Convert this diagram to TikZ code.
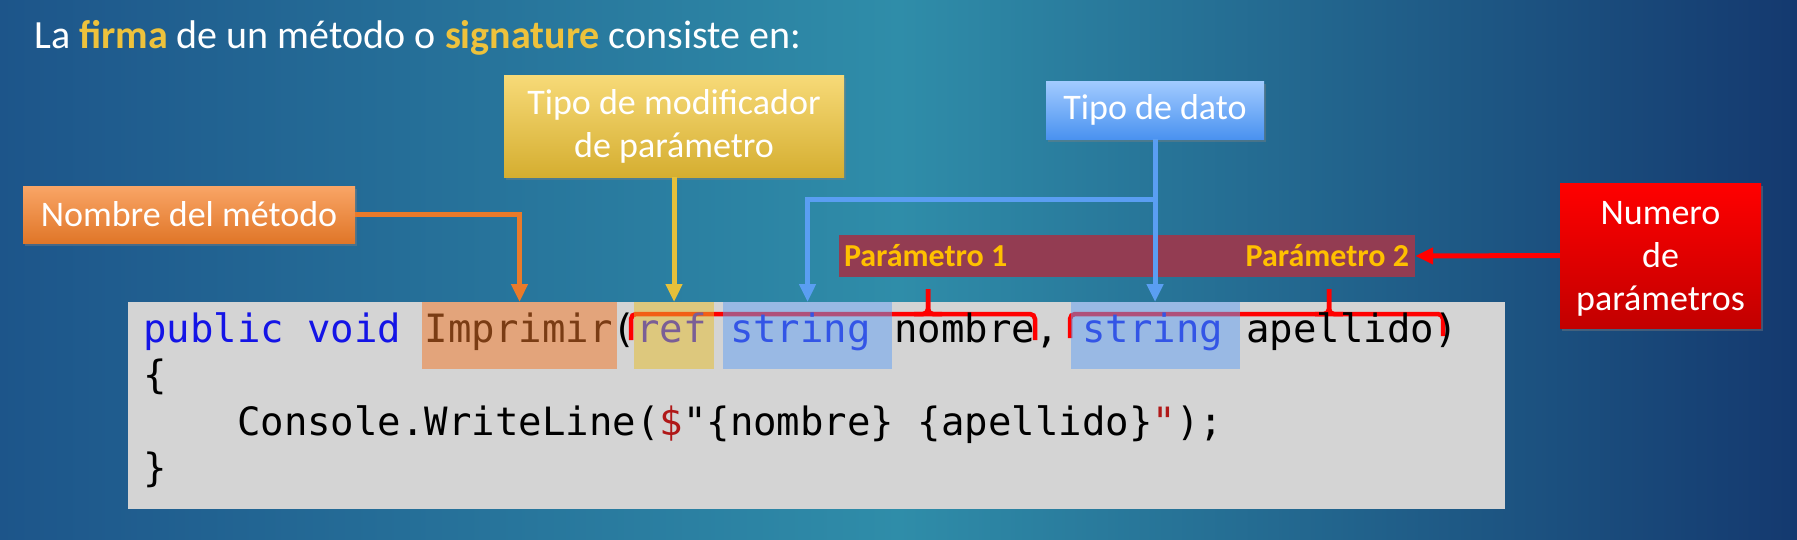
\documentclass[tikz,border=0pt]{standalone}
\usepackage{fontspec}
\setmainfont{Carlito}
\setmonofont{DejaVu Sans Mono}
\usetikzlibrary{arrows.meta,positioning,calc,shadows}
\definecolor{SigBgL}{HTML}{1D558A}
\definecolor{SigBgM}{HTML}{2F8DA9}
\definecolor{SigBgR}{HTML}{14396F}
\definecolor{SigGold}{HTML}{EEC23C}
\definecolor{SigOrangeT}{HTML}{F9A566}
\definecolor{SigOrangeB}{HTML}{E07628}
\definecolor{SigOrange}{HTML}{EA7A2A}
\definecolor{SigYellowT}{HTML}{F7DA78}
\definecolor{SigYellowB}{HTML}{D5AE30}
\definecolor{SigYellow}{HTML}{E6C03A}
\definecolor{SigBlueT}{HTML}{A2CBFF}
\definecolor{SigBlueB}{HTML}{4A92F0}
\definecolor{SigBlue}{HTML}{5A9EF2}
\definecolor{SigRedT}{HTML}{FF0000}
\definecolor{SigRedB}{HTML}{C20000}
\definecolor{SigBand}{HTML}{933C52}
\definecolor{SigParam}{HTML}{FFC000}
\definecolor{CodeBg}{HTML}{D4D4D4}
\definecolor{CodeKw}{HTML}{1414E6}
\definecolor{CodeMth}{HTML}{7A3C14}
\definecolor{CodeRef}{HTML}{7A5E96}
\definecolor{CodeStr}{HTML}{3355E6}
\definecolor{CodeLit}{HTML}{B01818}
\definecolor{HlOrange}{HTML}{F27624}
\definecolor{HlYellow}{HTML}{E6BE28}
\definecolor{HlBlue}{HTML}{60A0F4}
\def\cw{23.47}
\tikzset{
  lbl/.style={text=white,font=\fontsize{36}{43}\selectfont,align=center,inner sep=0pt,
    drop shadow={shadow xshift=2pt,shadow yshift=-3pt,opacity=.4}},
  codeline/.style={font=\ttfamily\fontsize{38.99}{46.5}\selectfont,anchor=base west,inner sep=0pt},
  hl/.style={fill opacity=.5,inner sep=0pt,minimum height=67pt,anchor=north},
  ptxt/.style={text=SigParam,font=\bfseries\fontsize{32}{36}\selectfont,inner sep=0pt},
  arr/.style={line width=5pt,-{Triangle[length=18pt,width=16pt]}},
  brk/.style={draw=red,line width=4.5pt,rounded corners=5pt},
}
\begin{document}
\begin{tikzpicture}[x=1pt,y=-1pt]
  \shade[left color=SigBgL,right color=SigBgR,middle color=SigBgM] (0,0) rectangle (1797,539);
  \useasboundingbox (0,0) rectangle (1797,539);
  \node[anchor=base west,text=white,font=\fontsize{40}{46}\selectfont,inner sep=0pt] (title) at (34,48)
    {La {\bfseries\color{SigGold}firma} de un método o {\bfseries\color{SigGold}signature} consiste en:};
  % etiquetas
  \node[lbl,top color=SigOrangeT,bottom color=SigOrangeB,minimum width=332pt,minimum height=57pt] (nombre) at (189,214.5) {Nombre del método};
  \node[lbl,top color=SigYellowT,bottom color=SigYellowB,minimum width=340pt,minimum height=102pt] (modif) at (674,126) {Tipo de modificador\\de parámetro};
  \node[lbl,top color=SigBlueT,bottom color=SigBlueB,minimum width=218pt,minimum height=58pt] (tipo) at (1155,110) {Tipo de dato};
  \node[lbl,top color=SigRedT,bottom color=SigRedB,minimum width=201pt,minimum height=145pt] (numero) at (1660.5,255.5) {\rule{0pt}{30pt}Numero\\de\\parámetros};
  % codigo
  \fill[CodeBg] (128,302) rectangle (1505,509);
  \draw[brk] (631,340) -- (631,314) -- (1035,314) -- (1035,340);
  \draw[brk] (914,314) -| (928,289);
  \draw[brk] (942,314) -| (928,289);
  \draw[brk] (1070,338) -- (1070,314) -- (1443,314) -- (1443,336);
  \draw[brk] (1315,314) -| (1329,289);
  \draw[brk] (1343,314) -| (1329,289);
  \node[hl,fill=HlOrange,minimum width=195pt] (himp) at (519.5,302) {};
  \node[hl,fill=HlYellow,minimum width=80pt] (href) at (674,302) {};
  \node[hl,fill=HlBlue,minimum width=169pt] (hstr1) at (807.5,302) {};
  \node[hl,fill=HlBlue,minimum width=169pt] (hstr2) at (1155,302) {};
  \node[codeline] (ln1) at (143,342) {\textcolor{CodeKw}{public void} \textcolor{CodeMth}{Imprimir}(\textcolor{CodeRef}{ref} \textcolor{CodeStr}{string} nombre, \textcolor{CodeStr}{string} apellido)};
  \node[codeline] (ln2) at (143,388.5) {\{};
  \node[codeline] (ln3) at (143+4*\cw,435) {Console.WriteLine(\textcolor{CodeLit}{\$}"\{nombre\} \{apellido\}\textcolor{CodeLit}{"});};
  \node[codeline] (ln4) at (143,481.5) {\}};
  % parametros
  \node[fill=SigBand,minimum width=576pt,minimum height=42pt,inner sep=0pt] (band) at (1127,256) {};
  \node[ptxt,right=5pt of band.west] (par1) {Parámetro 1};
  \node[ptxt,left=6pt of band.east] (par2) {Parámetro 2};
  % flechas
  \coordinate (fork) at ($(tipo.south)+(0,60)$);
  \draw[arr,SigOrange] (nombre.east) -| (himp.north);
  \draw[arr,SigYellow] (modif.south) -- (href.north);
  \draw[arr,SigBlue] (tipo.south) -- (hstr2.north);
  \draw[arr,SigBlue] (fork) -| (hstr1.north);
  \draw[arr,red] (numero.west) -- (band.east);
\end{tikzpicture}
\end{document}
